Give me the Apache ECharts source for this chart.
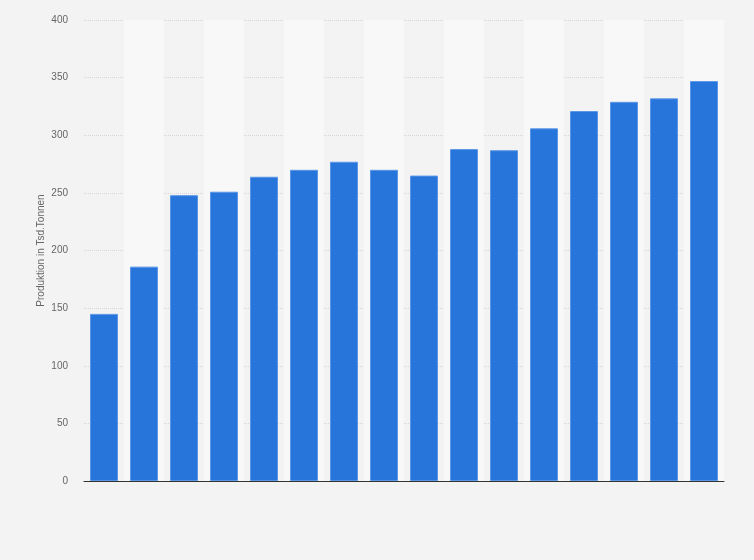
<!DOCTYPE html>
<html lang="de">
<head>
  <meta charset="UTF-8">
  <title>Produktion in Tsd. Tonnen</title>
  <script src="https://cdn.jsdelivr.net/npm/echarts@6/dist/echarts.min.js"></script>
  <style>
    html, body {
      margin: 0;
      padding: 0;
      background: #f3f3f3;
    }

    #main {
      width: 754px;
      height: 560px;
    }
  </style>
</head>
<body>
<div id="main"></div>
<script>
  // Kategorien ohne Beschriftung (16 Balken)
  var categories = ['1', '2', '3', '4', '5', '6', '7', '8', '9', '10', '11', '12', '13', '14', '15', '16'];
  var produktion = [145, 186, 248, 251, 264, 270, 277, 270, 265, 288, 287, 306, 321, 329, 332, 347];
  var yTicks = [0, 50, 100, 150, 200, 250, 300, 350, 400];

  var myChart = echarts.init(document.getElementById('main'));

  var option = {
    backgroundColor: '#f3f3f3',
    animation: false,
    grid: {
      left: 84,
      right: 30,
      top: 20,
      bottom: 79
    },
    xAxis: {
      type: 'category',
      data: categories,
      axisLine: {lineStyle: {color: '#333', width: 1}},
      axisTick: {show: false},
      axisLabel: {show: false},
      splitArea: {
        show: true,
        areaStyle: {color: ['rgba(0,0,0,0)', '#f8f8f8']}
      }
    },
    yAxis: {
      type: 'value',
      min: yTicks[0],
      max: yTicks[yTicks.length - 1],
      interval: 50,
      name: 'Produktion in Tsd.Tonnen',
      nameLocation: 'middle',
      nameGap: 38,
      nameMoveOverlap: false,
      nameTextStyle: {
        color: '#666',
        fontSize: 10,
        fontFamily: 'Liberation Sans'
      },
      axisLine: {show: false},
      axisTick: {show: false},
      axisLabel: {
        color: '#666',
        fontSize: 10,
        fontFamily: 'Liberation Sans',
        margin: 16
      },
      splitLine: {
        lineStyle: {color: '#d6d6d6', type: [1, 1], width: 1}
      }
    },
    series: [{
      type: 'bar',
      data: produktion,
      barWidth: 28,
      itemStyle: {
        color: '#2775db',
        borderColor: '#5a95e6',
        borderWidth: 1
      }
    }]
  };

  myChart.setOption(option);
</script>
</body>
</html>
